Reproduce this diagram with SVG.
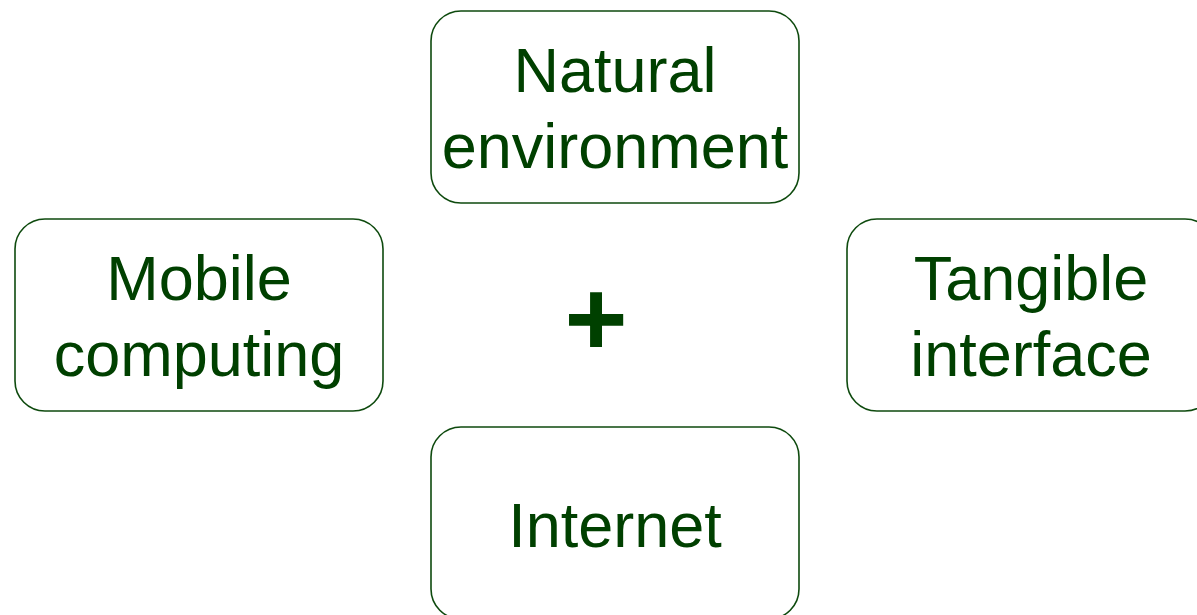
<svg xmlns="http://www.w3.org/2000/svg" width="1197" height="615" viewBox="0 0 1197 615">
  <style>
    .box { fill: #ffffff; stroke: #0e4a0e; stroke-width: 1.6; }
    .label { font-family: "Liberation Sans", Arial, sans-serif; font-size: 63px; fill: #004000; text-anchor: middle; }
    .plus { font-family: "Liberation Sans", Arial, sans-serif; font-size: 108px; font-weight: bold; fill: #004000; text-anchor: middle; }
  </style>
  <rect width="1197" height="615" fill="#ffffff"/>
  <g id="node-natural">
    <rect class="box" x="431" y="11" width="368" height="192" rx="30" ry="30"/>
    <text class="label" x="615" y="92">Natural</text>
    <text class="label" x="615" y="168">environment</text>
  </g>
  <g id="node-mobile">
    <rect class="box" x="15" y="219" width="368" height="192" rx="30" ry="30"/>
    <text class="label" x="199" y="300">Mobile</text>
    <text class="label" x="199" y="376">computing</text>
  </g>
  <g id="node-tangible">
    <rect class="box" x="847" y="219" width="368" height="192" rx="30" ry="30"/>
    <text class="label" x="1031" y="300">Tangible</text>
    <text class="label" x="1031" y="376">interface</text>
  </g>
  <g id="node-internet">
    <rect class="box" x="431" y="427" width="368" height="192" rx="30" ry="30"/>
    <text class="label" x="615" y="547">Internet</text>
  </g>
  <g id="center">
    <text class="plus" x="596" y="355">+</text>
  </g>
  <g id="connectors"/>
</svg>
